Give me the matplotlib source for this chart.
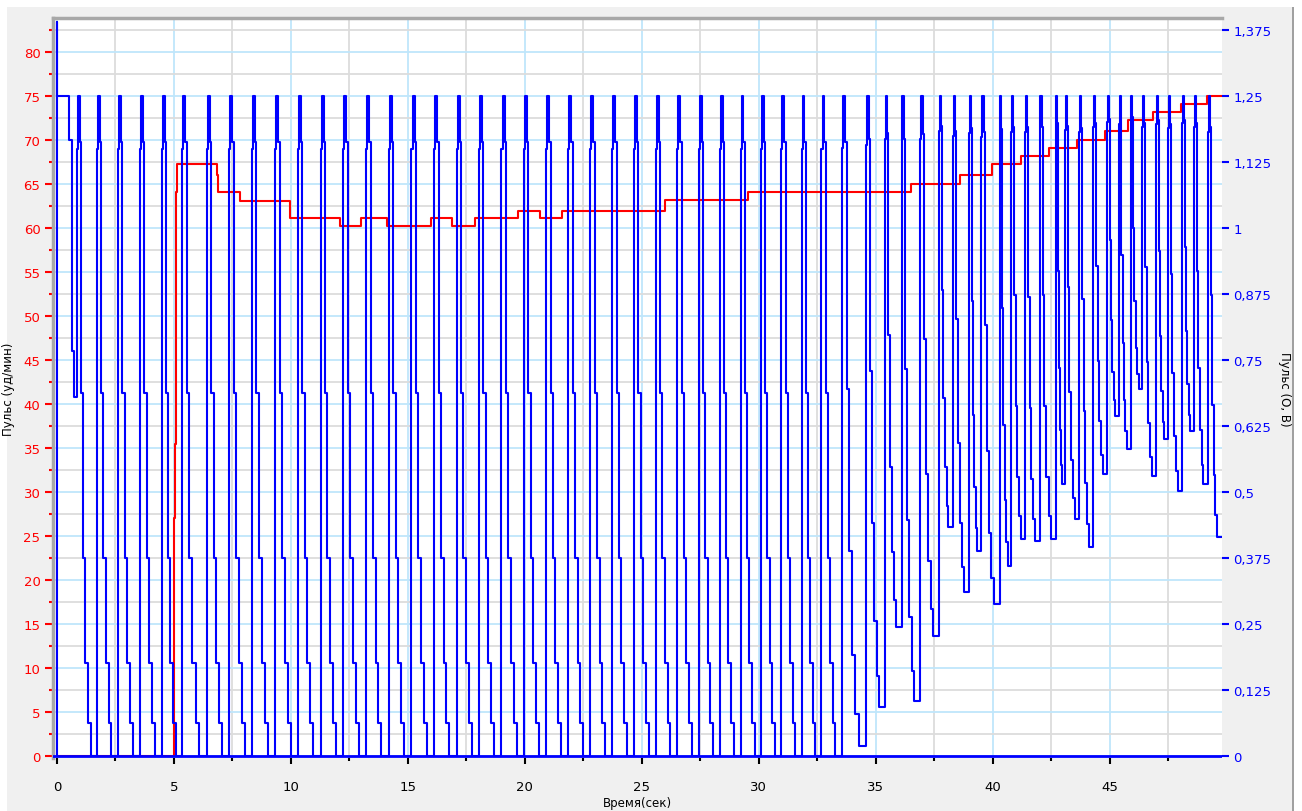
import numpy as np
import matplotlib
matplotlib.use("Agg")
import matplotlib.pyplot as plt
from matplotlib.ticker import MultipleLocator, FuncFormatter
from matplotlib.patches import Rectangle

# Pulse rate (bpm), step line
hr_t = [0, 5.0, 5.02, 5.04, 5.07, 5.13, 6.84, 6.9, 7.82, 9.96, 12.09, 13.0, 14.09, 16.0,
        16.9, 17.86, 19.7, 20.64, 21.57, 25.98, 29.53, 36.5, 38.6, 39.96, 41.2, 42.4,
        43.6, 44.8, 45.8, 46.85, 48.05, 49.15, 49.78]
hr_v = [0, 15, 27, 35.5, 64.1, 67.3, 66.1, 64.1, 63.1, 61.1, 60.2, 61.1, 60.2, 61.1,
        60.2, 61.1, 62.0, 61.1, 62.0, 63.2, 64.1, 65.0, 66.1, 67.3, 68.2, 69.1,
        70.0, 71.1, 72.3, 73.2, 74.1, 75.0, 75.0]

# Pulse wave: first samples, then one upstroke per beat and the trough that follows it
start_t = [0, 0, 0.02, 0.5, 0.63, 0.72]
start_v = [0, 83.5, 75, 70, 46, 40.8]
rise_t = [0.85, 1.71, 2.61, 3.55, 4.49, 5.34, 6.41, 7.35, 8.33, 9.32, 10.3, 11.27,
          12.24, 13.21, 14.18, 15.15, 16.12, 17.08, 18.04, 19.0, 19.96, 20.91, 21.86,
          22.8, 23.74, 24.67, 25.6, 26.52, 27.43, 28.33, 29.22, 30.1, 30.97, 31.83,
          32.68, 33.55, 34.6, 35.4, 36.1, 36.9, 37.7, 38.3, 39.0, 39.5, 40.3, 40.8,
          41.4, 42.0, 42.7, 43.1, 43.7, 44.3, 44.9, 45.4, 45.9, 46.4, 47.0, 47.5,
          48.1, 48.6, 49.2]
trough_v = [0] * 35 + [1.1, 5.6, 14.7, 6.2, 13.6, 26, 18.6, 23.3, 17.3, 21.6, 24.7,
                       24.4, 24.7, 30.9, 26.9, 23.8, 32, 38.6, 34.9, 41.7, 31.8, 36,
                       30.1, 36.9, 30.9, 24.9]
peak_v = 75
end_t = 49.78

# shape of one beat: (fraction of the beat, fraction of the swing above the trough)
beat_x = [0.0, 0.05, 0.14, 0.2, 0.3, 0.42, 0.55, 0.68]
beat_y = [0.92, 1.0, 0.93, 0.55, 0.3, 0.14, 0.05, 0.0]

blue = "#0000ff"
red = "#ff0000"
grid_blue = "#bfe6fb"
grid_gray = "#dcdcdc"

# build step path for the pulse wave
bt = list(start_t)
bv = list(start_v)
for i, r in enumerate(rise_t):
    nxt = rise_t[i + 1] if i + 1 < len(rise_t) else end_t
    p = nxt - r
    lo = trough_v[i]
    a = peak_v - lo
    bt += [r + fx * p for fx in beat_x]
    bv += [lo + fy * a for fy in beat_y]
bt.append(end_t)
bv.append(bv[-1])

fig = plt.figure(figsize=(13.02, 8.12), dpi=100, facecolor="white")
fig.patches.append(Rectangle((7 / 1302, 0), 1286 / 1302, 804 / 812, transform=fig.transFigure,
                             facecolor="#f0f0f0", edgecolor="none", zorder=-10))
fig.patches.append(Rectangle((1292 / 1302, 0), 2 / 1302, 804 / 812, transform=fig.transFigure,
                             facecolor="#a0a0a0", edgecolor="none", zorder=-9))

ax = fig.add_axes([53 / 1302, 53 / 812, 1169 / 1302, 740 / 812])
ax.set_facecolor("white")
xmin, xmax = -0.17, 49.8
ymin, ymax = -0.25, 83.9
ax.set_xlim(xmin, xmax)
ax.set_ylim(ymin, ymax)

ax.xaxis.set_major_locator(MultipleLocator(5))
ax.xaxis.set_minor_locator(MultipleLocator(2.5))
ax.yaxis.set_major_locator(MultipleLocator(5))
ax.yaxis.set_minor_locator(MultipleLocator(2.5))
ax.grid(which="minor", color=grid_gray, linewidth=1.3, zorder=0)
ax.grid(which="major", color=grid_blue, linewidth=1.3, zorder=0)
ax.set_axisbelow(True)

ax.step(hr_t, hr_v, where="post", color=red, linewidth=1.5, zorder=2)
ax.step(bt, bv, where="post", color=blue, linewidth=1.5, zorder=3)
ax.axhline(0, color=blue, linewidth=2, zorder=3)

for s in ["right", "bottom"]:
    ax.spines[s].set_visible(False)
ax.spines["top"].set_color("#a8a8a8")
ax.spines["top"].set_linewidth(2.5)
ax.spines["left"].set_color("#a8a8a8")
ax.spines["left"].set_linewidth(2.5)

ax.tick_params(axis="y", which="major", colors=red, labelcolor=red, length=6, width=1.5,
               labelsize=9.5, pad=3)
ax.tick_params(axis="y", which="minor", colors=red, length=3, width=1.5)
ax.tick_params(axis="x", which="major", colors="black", length=4, width=1.5, labelsize=9.5,
               pad=12)
ax.tick_params(axis="x", which="minor", colors="black", length=2, width=1.5)
ax.set_xticks([0, 5, 10, 15, 20, 25, 30, 35, 40, 45])
ax.set_xlabel("Время(сек)", fontsize=8.5, labelpad=2)
ax.set_ylabel("Пульс (уд/мин)", fontsize=8.5)
ax.yaxis.set_label_coords(-38 / 1169, 0.5)

ax2 = ax.twinx()
k = 1.25 / 75
ax2.set_ylim(ymin * k, ymax * k)
ax2.yaxis.set_major_locator(MultipleLocator(0.125))
ax2.yaxis.set_major_formatter(FuncFormatter(lambda v, pos: ("%g" % round(v, 3)).replace(".", ",")))
for s in ["right", "bottom", "top", "left"]:
    ax2.spines[s].set_visible(False)
ax2.tick_params(axis="y", colors=blue, labelcolor=blue, length=5, width=1.5, labelsize=9.5,
                pad=3)
ax2.set_ylabel("Пульс (О, В)", fontsize=8.5, rotation=270, labelpad=14)

fig.savefig("out.png", dpi=100)
